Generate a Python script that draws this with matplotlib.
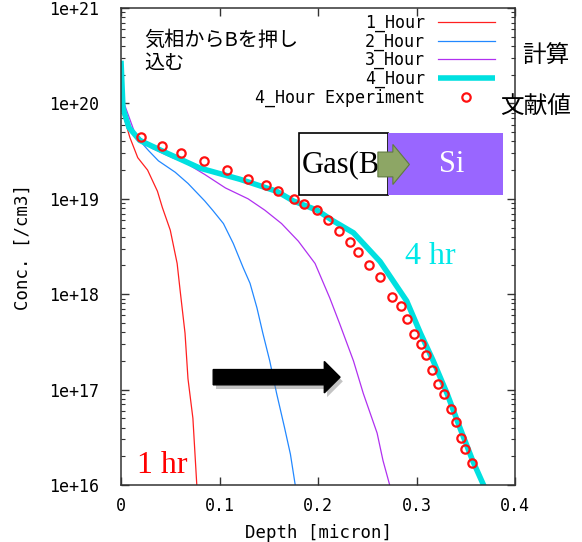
import math
import matplotlib
matplotlib.use("Agg")
import matplotlib.pyplot as plt
import matplotlib.patches as mpatches
import matplotlib.patheffects as pe
from matplotlib.ticker import FixedLocator, FuncFormatter, LogLocator, NullFormatter

# ---- boron profile data (depth in micron, concentration in /cm3) ----
depth_1h = [0, 0.004, 0.009, 0.017, 0.027, 0.037, 0.042, 0.050, 0.057, 0.060,
            0.065, 0.068, 0.073, 0.077]
conc_1h = [9.1e19, 6.6e19, 4.4e19, 2.7e19, 2.0e19, 1.2e19, 8.1e18, 4.7e18, 2.1e18, 1.1e18,
           3.9e17, 1.3e17, 5.0e16, 9.8e15]

depth_2h = [0, 0.007, 0.017, 0.028, 0.038, 0.055, 0.068, 0.085, 0.093, 0.104,
            0.114, 0.124, 0.131, 0.138, 0.144, 0.151, 0.158, 0.166, 0.172, 0.177]
conc_2h = [1.07e20, 6.2e19, 4.3e19, 3.2e19, 2.5e19, 1.9e19, 1.45e19, 9.5e18, 7.6e18, 5.5e18,
           3.4e18, 1.9e18, 1.3e18, 7.2e17, 3.9e17, 2.0e17, 9.1e16, 4.0e16, 2.1e16, 9.8e15]

depth_3h = [0, 0.014, 0.031, 0.052, 0.065, 0.085, 0.106, 0.129, 0.146, 0.163,
            0.180, 0.197, 0.212, 0.222, 0.236, 0.246, 0.260, 0.266, 0.273]
conc_3h = [1.23e20, 4.9e19, 3.4e19, 2.7e19, 2.4e19, 1.8e19, 1.3e19, 1.0e19, 7.6e18, 5.5e18,
           3.6e18, 2.1e18, 9.1e17, 4.9e17, 2.0e17, 9.1e16, 3.5e16, 1.8e16, 9.8e15]

depth_4h = [0, 0.002, 0.008, 0.019, 0.047, 0.080, 0.121, 0.158, 0.175, 0.199,
            0.215, 0.236, 0.263, 0.290, 0.304, 0.317, 0.331, 0.344, 0.357, 0.370]
conc_4h = [2.8e20, 8.9e19, 5.6e19, 4.1e19, 3.0e19, 2.1e19, 1.6e19, 1.2e19, 9.5e18, 7.6e18,
           5.9e18, 4.4e18, 2.2e18, 8.5e17, 3.9e17, 2.0e17, 9.1e16, 4.0e16, 1.8e16, 9.0e15]

depth_exp = [0.020, 0.042, 0.061, 0.084, 0.108, 0.129, 0.147, 0.159, 0.176, 0.186,
             0.199, 0.210, 0.221, 0.232, 0.241, 0.252, 0.263, 0.275, 0.284, 0.290,
             0.297, 0.305, 0.310, 0.316, 0.322, 0.328, 0.335, 0.340, 0.345, 0.349, 0.356]
conc_exp = [4.4e19, 3.6e19, 3.0e19, 2.5e19, 2.0e19, 1.6e19, 1.4e19, 1.2e19, 1.0e19, 8.9e18,
            7.6e18, 6.0e18, 4.6e18, 3.5e18, 2.8e18, 2.0e18, 1.5e18, 9.3e17, 7.6e17, 5.5e17,
            3.8e17, 3.0e17, 2.3e17, 1.6e17, 1.15e17, 8.9e16, 6.2e16, 4.6e16, 3.1e16, 2.4e16, 1.7e16]

x_ticks = [0, 0.1, 0.2, 0.3, 0.4]
x_ticklabels = ["0", "0.1", "0.2", "0.3", "0.4"]
y_ticks = [1e16, 1e17, 1e18, 1e19, 1e20, 1e21]

mono = "DejaVu Sans Mono"
cjk = ["Noto Sans CJK JP", "DejaVu Sans"]
serif = "Liberation Serif"

fig = plt.figure(figsize=(5.82, 5.42), dpi=100)
ax = fig.add_axes([0.2079, 0.1052, 0.677, 0.880])

ax.plot(depth_1h, conc_1h, color="#ff2020", lw=0.9, label="1_Hour")
ax.plot(depth_2h, conc_2h, color="#2288ff", lw=0.9, label="2_Hour")
ax.plot(depth_3h, conc_3h, color="#b030f0", lw=0.9, label="3_Hour")
ax.plot(depth_4h, conc_4h, color="#00e0e0", lw=4, label="4_Hour", solid_capstyle="butt")
ax.plot(depth_exp, conc_exp, ls="none", marker="o", ms=6, mew=1.6,
        mec="#ff1010", mfc="none", label="4_Hour Experiment")

ax.set_yscale("log")
ax.set_xlim(0, 0.4)
ax.set_ylim(1e16, 1e21)

ax.xaxis.set_major_locator(FixedLocator(x_ticks))
ax.set_xticklabels(x_ticklabels)
ax.yaxis.set_major_locator(FixedLocator(y_ticks))
ax.yaxis.set_major_formatter(FuncFormatter(lambda v, p: "1e+%d" % round(math.log10(v))))
ax.yaxis.set_minor_locator(LogLocator(base=10, subs=range(2, 10)))
ax.yaxis.set_minor_formatter(NullFormatter())

ax.tick_params(which="both", direction="in", top=True, right=True, color="#333333")
ax.tick_params(which="major", length=6, width=1.0)
ax.tick_params(which="minor", length=3, width=0.8)
ax.tick_params(axis="y", pad=16, labelsize=12)
ax.tick_params(axis="x", pad=9, labelsize=12)
for lab in ax.get_xticklabels() + ax.get_yticklabels():
    lab.set_family(mono)
for sp in ax.spines.values():
    sp.set_color("#333333")
    sp.set_linewidth(1.1)

ax.set_xlabel("Depth [micron]", family=mono, fontsize=12.5, labelpad=6)
ax.set_ylabel("Conc. [/cm3]", family=mono, fontsize=12.5, labelpad=12)

leg = ax.legend(loc="upper right", bbox_to_anchor=(0.978, 1.012), frameon=False,
                markerfirst=False, handlelength=3.4, handletextpad=0.8,
                labelspacing=0.02, borderpad=0.2, prop={"family": mono, "size": 12})

# annotations
ax.text(0.06, 0.955, "気相からBを押し\n込む", transform=ax.transAxes, family=cjk,
        fontsize=14.5, va="top", ha="left", linespacing=1.15)
fig.text(522 / 582, 1 - 56 / 542, "計算", family=cjk, fontsize=17, va="center", ha="left")
fig.text(500 / 582, 1 - 107 / 542, "文献値", family=cjk, fontsize=17, va="center", ha="left")

# Gas -> Si sketch
ax.add_patch(mpatches.Rectangle((0.452, 0.608), 0.226, 0.130, transform=ax.transAxes,
                                facecolor="white", edgecolor="black", lw=1.2, zorder=5))
ax.add_patch(mpatches.Rectangle((0.678, 0.608), 0.292, 0.130, transform=ax.transAxes,
                                facecolor="#9966ff", edgecolor="none", zorder=5))
ax.text(0.557, 0.672, "Gas(B", transform=ax.transAxes, family=serif, fontsize=22,
        ha="center", va="center", zorder=6)
ax.text(0.840, 0.672, "Si", transform=ax.transAxes, family=serif, fontsize=22,
        color="white", ha="center", va="center", zorder=6)
ax.add_patch(mpatches.FancyArrow(0.652, 0.672, 0.080, 0, width=0.052, head_width=0.084,
                                 head_length=0.042, length_includes_head=True,
                                 transform=ax.transAxes, facecolor="#8da665",
                                 edgecolor="#5f7a40", lw=0.8, zorder=7))

# time arrow
arrow = mpatches.FancyArrow(0.234, 0.226, 0.322, 0, width=0.032, head_width=0.066,
                            head_length=0.040, length_includes_head=True,
                            transform=ax.transAxes, facecolor="black", edgecolor="black",
                            zorder=4)
arrow.set_path_effects([pe.withSimplePatchShadow(offset=(2, -3), shadow_rgbFace="#888888",
                                                 alpha=0.5)])
ax.add_patch(arrow)

ax.text(0.04, 0.04, "1 hr", transform=ax.transAxes, family=serif, fontsize=23,
        color="#ff0000", ha="left", va="center")
ax.text(0.72, 0.48, "4 hr", transform=ax.transAxes, family=serif, fontsize=23,
        color="#00e8e8", ha="left", va="center")

fig.savefig("out.png", dpi=100)
